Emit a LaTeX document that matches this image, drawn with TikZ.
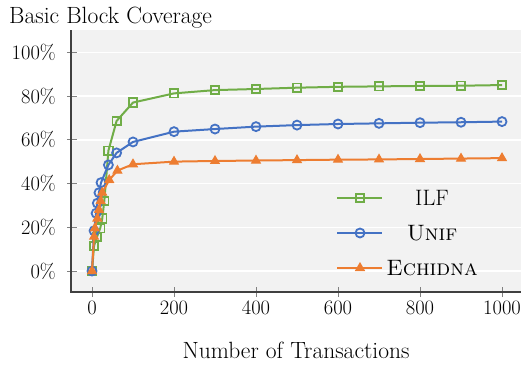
\documentclass[tikz,border=0pt]{standalone}
\usetikzlibrary{plotmarks}
\definecolor{cgreen}{HTML}{70AD47}
\definecolor{cblue}{HTML}{4472C4}
\definecolor{corange}{HTML}{ED7D31}
\definecolor{plotbg}{HTML}{F2F2F2}
\definecolor{axisc}{HTML}{404040}
\tikzset{
  serA/.style={cgreen, line width=2pt, mark=square, mark size=4.2pt, mark options={line width=1.8pt, solid}},
  serB/.style={cblue, line width=2pt, mark=o, mark size=4.5pt, mark options={line width=1.8pt, solid}},
  serC/.style={corange, line width=2pt, mark=triangle*, mark size=5pt, mark options={line width=1pt, solid}},
  ticklab/.style={font=\fontsize{20.5}{22}\selectfont, inner sep=0pt},
  biglab/.style={font=\fontsize{23.5}{25}\selectfont, inner sep=0pt},
  leglab/.style={font=\fontsize{22.3}{24}\selectfont, inner sep=0pt},
}
\begin{document}
\begin{tikzpicture}[x=1pt,y=-1pt]
\useasboundingbox (0,0) rectangle (529,364);
\fill[plotbg] (71,30) rectangle (521,292);
\foreach \p in {0,20,...,100}{
  \draw[white, line width=1.5pt] (71,{271-2.1875*\p}) -- (521,{271-2.1875*\p});
  \draw[gray, line width=0.8pt] (67,{271-2.1875*\p}) -- (77,{271-2.1875*\p});
  \node[ticklab, anchor=east] (y\p) at (56,{271-2.1875*\p}) {\p\%};
}
\foreach \v in {0,200,...,1000}{
  \draw[gray, line width=0.8pt] ({92+0.41*\v},287) -- ({92+0.41*\v},297);
  \node[ticklab, anchor=base] (x\v) at ({92+0.41*\v},314) {\v};
}
\draw[axisc, line width=1.3pt] (71,30) -- (71,292) -- (521,292);
\node[biglab, anchor=base west] (title) at (9,23) {Basic Block Coverage};
\node[biglab, anchor=base] (xlabel) at (296,358) {Number of Transactions};
\begin{scope}[shift={(92,271)}, x=0.41pt, y=2.1875pt]
\draw[serA] plot coordinates {(0,0) (5,11.5) (12,15.5) (20,19.5) (25,24) (30,32) (40,55) (60,68.6) (100,77) (200,81.2) (300,82.7) (400,83.2) (500,83.8) (600,84.2) (700,84.4) (800,84.6) (900,84.7) (1000,85)};
\draw[serB] plot coordinates {(0,0) (5,18.4) (10,26.4) (13,31) (17,35.8) (22,40.4) (40,48.5) (60,54) (100,59) (200,63.7) (300,64.9) (400,66) (500,66.7) (600,67.2) (700,67.5) (800,67.8) (900,68) (1000,68.3)};
\draw[serC] plot coordinates {(0,0) (5,15.7) (7,19.5) (13,24) (17,28) (21,32) (25,35.8) (42,41.6) (62,45.9) (100,48.8) (200,50) (300,50.3) (400,50.5) (500,50.7) (600,50.9) (700,51) (800,51.2) (900,51.4) (1000,51.6)};
\end{scope}
\draw[serA, mark indices={2}] plot coordinates {(337,198) (360,198) (382,198)};
\draw[serB, mark indices={2}] plot coordinates {(337,233) (360,233) (382,233)};
\draw[serC, mark indices={2}] plot coordinates {(337,268) (360,268) (382,268)};
\node[leglab] (lA) at (432,198) {ILF};
\node[leglab] (lB) at (432,233) {\textsc{Unif}};
\node[leglab] (lC) at (432,268) {\textsc{Echidna}};
\end{tikzpicture}
\end{document}
